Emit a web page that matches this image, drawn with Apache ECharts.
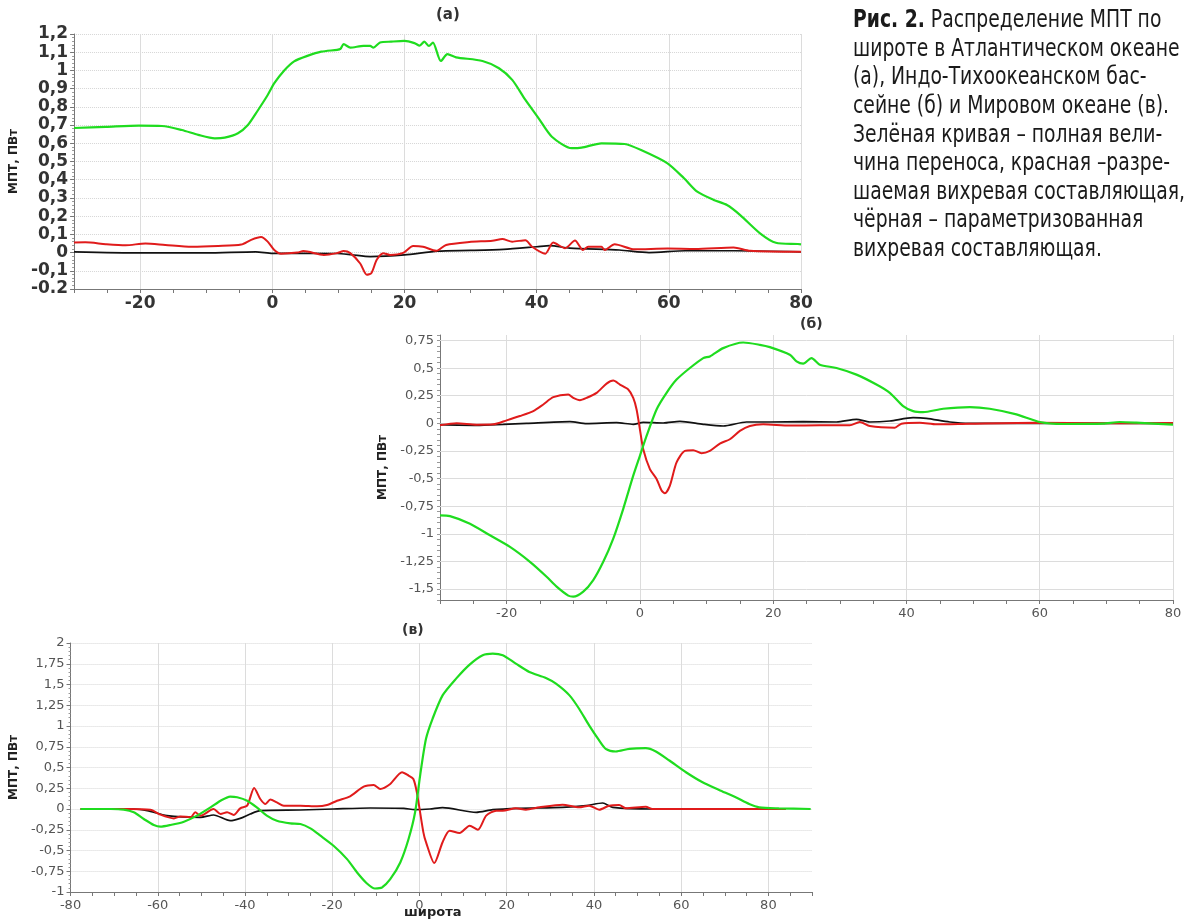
<!DOCTYPE html>
<html>
<head>
<meta charset="utf-8">
<script src="https://cdn.jsdelivr.net/npm/echarts@6/dist/echarts.min.js"></script>
<style>
html, body { margin: 0; padding: 0; background: #fff; }
#chart { width: 1191px; height: 922px; }
</style>
</head>
<body>
<div id="chart"></div>
<script>
// (а) Атлантический океан: [широта, МПТ]
const atlTotal = [[-30,0.684],[-25.2,0.69],[-20.2,0.697],[-16.7,0.695],[-13.7,0.673],[-11.2,0.646],[-8.7,0.627],[-7.2,0.631],[-5.2,0.655],[-3.7,0.70],[-2.2,0.78],[-0.7,0.865],[0.3,0.93],[1.8,1.0],[3.3,1.05],[5.3,1.08],[7.4,1.103],[9.8,1.113],[10.3,1.118],[10.8,1.144],[11.8,1.125],[13.8,1.135],[14.8,1.135],[15.3,1.125],[16.3,1.153],[18,1.158],[20,1.162],[21.5,1.15],[22.3,1.136],[23,1.158],[23.7,1.134],[24.3,1.153],[25.5,1.052],[26.5,1.089],[27.8,1.072],[31.8,1.052],[34.3,1.012],[36.3,0.948],[38.3,0.838],[40.3,0.737],[42.3,0.636],[45.3,0.573],[46.8,0.576],[49.8,0.60],[53.3,0.596],[55.8,0.563],[59.8,0.49],[62.3,0.408],[64.3,0.334],[66.8,0.289],[68.8,0.261],[70.8,0.206],[73.8,0.106],[76.2,0.054],[79.5,0.047],[80,0.045]];
const atlEddy = [[-30,0.055],[-28.3,0.056],[-25.2,0.046],[-22.2,0.04],[-19.2,0.05],[-16.2,0.042],[-12.2,0.032],[-8.2,0.036],[-4.7,0.044],[-3.2,0.07],[-1.7,0.085],[-0.7,0.06],[0.3,0.014],[1.3,-0.006],[3.8,0],[4.7,0.008],[7.8,-0.013],[9.8,-0.003],[10.8,0.008],[11.8,-0.003],[13.3,-0.06],[14.3,-0.122],[15,-0.112],[15.8,-0.04],[16.8,-0.004],[17.8,-0.013],[19.8,-0.002],[21.3,0.036],[22.8,0.032],[24.8,0.01],[26.3,0.042],[29.8,0.058],[33.3,0.065],[34.8,0.074],[36.3,0.06],[38.3,0.068],[39.3,0.032],[41.3,-0.006],[42.5,0.055],[44.3,0.024],[45.8,0.066],[47,0.014],[47.8,0.032],[49.8,0.032],[50.3,0.014],[51.8,0.046],[54.8,0.018],[59.8,0.022],[64,0.02],[69.8,0.028],[72.3,0.01],[80,0.004]];
const atlParam = [[-30,0.004],[-20,-0.002],[-10,-0.002],[-2.5,0.004],[0,-0.004],[9.8,-0.005],[12,-0.012],[14.8,-0.022],[20,-0.013],[25,0.008],[30,0.012],[35,0.018],[40,0.032],[42,0.038],[45,0.024],[52.5,0.014],[57,0],[62.5,0.01],[70,0.01],[80,0.004]];

// (б) Индо-Тихоокеанский бассейн
const indTotal = [[-30,-0.834],[-28.5,-0.84],[-25.5,-0.909],[-22.5,-1.014],[-19.5,-1.119],[-16.5,-1.254],[-14,-1.389],[-12.5,-1.479],[-10.75,-1.56],[-10,-1.569],[-8.5,-1.524],[-7,-1.419],[-5.5,-1.254],[-4,-1.044],[-2.5,-0.774],[-1,-0.474],[0,-0.294],[1,-0.114],[2.5,0.126],[4,0.276],[5.5,0.396],[7.5,0.501],[9.5,0.591],[10.5,0.606],[12.5,0.681],[15.5,0.732],[18,0.711],[19.5,0.69],[22.5,0.621],[23.5,0.561],[24.5,0.54],[25.75,0.591],[27,0.531],[29.5,0.501],[32.5,0.441],[35.5,0.351],[37.5,0.276],[39.5,0.156],[41,0.111],[42.5,0.102],[45.5,0.132],[49.5,0.147],[52.5,0.132],[56.5,0.081],[60,0.012],[63.5,-0.006],[69.5,-0.003],[72,0.012],[74.5,0.006],[80,-0.012]];
const indEddy = [[-30,-0.018],[-27.5,0],[-24.5,-0.012],[-22,-0.009],[-20,0.027],[-18,0.066],[-16,0.111],[-14.5,0.171],[-13,0.237],[-10.75,0.261],[-10,0.231],[-9,0.21],[-8,0.231],[-6.5,0.276],[-5,0.36],[-4,0.387],[-3,0.351],[-1.75,0.306],[-1,0.231],[-0.5,0.126],[0,-0.054],[0.5,-0.234],[1.5,-0.414],[2.5,-0.504],[3.25,-0.609],[3.75,-0.633],[4.5,-0.564],[5.5,-0.354],[6.75,-0.249],[8,-0.243],[9.25,-0.27],[10.5,-0.249],[12,-0.183],[13.5,-0.144],[15,-0.069],[16.5,-0.024],[18.5,-0.009],[22.5,-0.02],[27,-0.018],[31.5,-0.018],[33,0.012],[34.5,-0.024],[38.25,-0.039],[39.25,-0.003],[42,0.006],[44.5,-0.009],[49.5,-0.003],[59.5,0.006],[69.5,0],[80,0.003]];
const indParam = [[-30,-0.012],[-24.5,-0.018],[-20.5,-0.009],[-17,0],[-10.5,0.015],[-8,-0.003],[-3.5,0.006],[-1,-0.009],[0.5,0.009],[3.5,0.003],[6,0.018],[9.5,-0.009],[12.5,-0.024],[16,0.012],[19.5,0.012],[24.5,0.015],[29.5,0.012],[32.5,0.036],[34.5,0.012],[37.5,0.021],[41,0.051],[43,0.045],[46.5,0.012],[49.5,0],[60,0],[80,0]];

// (в) Мировой океан
const wldTotal = [[-77.7,0],[-70.8,0],[-67.8,-0.008],[-65.5,-0.04],[-63.2,-0.12],[-60.9,-0.193],[-59.4,-0.213],[-57.1,-0.193],[-54,-0.153],[-51,-0.08],[-47.9,0.02],[-45.6,0.1],[-43.4,0.149],[-41.8,0.141],[-39.5,0.1],[-37.3,0.02],[-35,-0.08],[-32.7,-0.141],[-29.6,-0.173],[-27.3,-0.181],[-25,-0.234],[-22.7,-0.322],[-19.7,-0.443],[-16.6,-0.604],[-14.3,-0.765],[-12.1,-0.894],[-10.2,-0.958],[-8.6,-0.946],[-6.7,-0.846],[-4.4,-0.644],[-2.5,-0.362],[-1,-0.04],[0.2,0.42],[1.5,0.846],[3,1.087],[5.3,1.369],[8.4,1.571],[11.5,1.74],[14.5,1.853],[16.8,1.873],[19.1,1.853],[22.1,1.752],[25.2,1.651],[29,1.579],[31.3,1.51],[34.4,1.369],[36.6,1.208],[38.9,1.007],[41.2,0.826],[42.7,0.725],[45,0.693],[48.1,0.725],[51.9,0.733],[54.2,0.693],[57.3,0.584],[61.1,0.443],[64.9,0.322],[68.7,0.23],[72.5,0.141],[75.6,0.06],[77.9,0.02],[82.4,0.008],[89.7,0]];
const wldEddy = [[-77.7,0],[-67,0],[-61.7,-0.008],[-59.4,-0.068],[-56.3,-0.113],[-54.8,-0.089],[-52.5,-0.1],[-51.4,-0.04],[-50.2,-0.08],[-47.2,0],[-45.6,-0.06],[-44.1,-0.04],[-42.6,-0.072],[-41.1,0.008],[-39.5,0.04],[-37.9,0.254],[-36.5,0.121],[-35.3,0.06],[-34.2,0.113],[-32.7,0.08],[-31.1,0.04],[-27.3,0.04],[-23.5,0.032],[-21.2,0.048],[-18.9,0.1],[-15.9,0.153],[-12.8,0.27],[-10.5,0.29],[-9,0.242],[-6.7,0.302],[-4,0.443],[-2.5,0.403],[-1.4,0.362],[-0.6,0.2],[0.9,-0.282],[1.5,-0.4],[3.4,-0.652],[5.3,-0.4],[6.9,-0.262],[9.2,-0.29],[11.5,-0.201],[13.4,-0.25],[15.3,-0.08],[17.6,-0.02],[19.1,-0.02],[22.1,0.008],[24.4,-0.008],[27.5,0.02],[32.8,0.052],[36.6,0.02],[38.9,0.04],[41.2,-0.008],[43.5,0.04],[45.8,0.048],[47.3,0.008],[51.9,0.028],[53.4,0],[84,0]];
const wldParam = [[-77.7,0],[-65.5,0],[-62.4,-0.02],[-57.9,-0.08],[-50.2,-0.1],[-47.2,-0.072],[-43.4,-0.141],[-41.1,-0.113],[-38.8,-0.06],[-36.5,-0.02],[-27.3,-0.012],[-19.7,0],[-11.3,0.012],[-3.6,0.008],[-1,-0.008],[2.4,0],[5.3,0.016],[13,-0.04],[16.8,-0.008],[22.9,0.008],[32.8,0.02],[38.2,0.04],[42,0.072],[44.3,0.02],[53.4,0],[84,0]];

// линии сетки (подписанные деления)
const atlXGrid = [-20, 0, 20, 40, 60, 80];
const indXGrid = [-20, 0, 20, 40, 60, 80];
const indYGrid = [-1.5, -1.25, -1, -0.75, -0.5, -0.25, 0, 0.25, 0.5, 0.75];
const wldXGrid = [-60, -40, -20, 0, 20, 40, 60, 80];

const caption = [
    '{b|Рис. 2.} Распределение МПТ по',
    'широте в Атлантическом океане',
    '(а), Индо-Тихоокеанском бас-',
    'сейне (б) и Мировом океане (в).',
    'Зелёная кривая – полная вели-',
    'чина переноса, красная –разре-',
    'шаемая вихревая составляющая,',
    'чёрная – параметризованная',
    'вихревая составляющая.'
];

const GREEN = '#1fdc1f', RED = '#e01b1b', BLACK = '#111';
const FONT = "'DejaVu Sans', Verdana, sans-serif";
const CAP_FONT = "'Liberation Sans Narrow', 'DejaVu Sans Condensed', sans-serif";

// подпись узким шрифтом: сжимаем по ширине самой длинной строки
const ctx = document.createElement('canvas').getContext('2d');
ctx.font = '24px ' + CAP_FONT;
const capScale = Math.min(1, 332 / ctx.measureText('шаемая вихревая составляющая,').width);

function comma(v) {
    return String(+v.toFixed(2)).replace('.', ',');
}
function onStep(v, step) {
    const k = v / step;
    return Math.abs(k - Math.round(k)) < 1e-6;
}

function xAxis(idx, min, max, big) {
    return {
        type: 'value', gridIndex: idx, min: min, max: max, interval: 5,
        axisLine: { onZero: false, lineStyle: { color: '#777' } },
        axisTick: { length: 4, lineStyle: { color: '#777' } },
        splitLine: { show: false },
        axisLabel: {
            color: big ? '#333' : '#555', fontSize: big ? 17 : 13, fontWeight: big ? 'bold' : 'normal',
            fontFamily: FONT, margin: big ? 6 : 7,
            formatter: v => onStep(v, 20) ? String(Math.round(v) || 0) : ''
        }
    };
}

function yName(gap, size) {
    return {
        name: 'МПТ, ПВт', nameLocation: 'middle', nameGap: gap, nameRotate: 90,
        nameTextStyle: { fontSize: size, fontWeight: 'bold', color: '#222', fontFamily: FONT }
    };
}

function line(idx, data, color, width) {
    return {
        type: 'line', xAxisIndex: idx, yAxisIndex: idx, data: data,
        showSymbol: false, smooth: 0.25, z: 3,
        lineStyle: { color: color, width: width }
    };
}

function gridLines(idx, xs, ys) {
    const d = xs.map(v => ({ xAxis: v })).concat((ys || []).map(v => ({ yAxis: v })));
    return {
        type: 'line', xAxisIndex: idx, yAxisIndex: idx, data: [], silent: true,
        markLine: {
            z: 1, silent: true, symbol: ['none', 'none'], label: { show: false },
            animation: false,
            lineStyle: { color: '#dcdcdc', type: 'solid', width: 1 },
            emphasis: { disabled: true },
            data: d
        }
    };
}

const yLine = { show: true, onZero: false, lineStyle: { color: '#777' } };

const chart = echarts.init(document.getElementById('chart'));
chart.setOption({
    animation: false,
    backgroundColor: '#fff',
    grid: [
        { left: 68, top: 34, width: 733, height: 255 },
        { left: 440, top: 335, width: 733, height: 265 },
        { left: 70, top: 643, width: 742, height: 249 }
    ],
    xAxis: [
        xAxis(0, -30, 80, true),
        xAxis(1, -30, 80, false),
        xAxis(2, -80, 90, false)
    ],
    yAxis: [
        Object.assign({
            type: 'value', gridIndex: 0, min: -0.2, max: 1.2, interval: 0.1,
            axisLine: yLine,
            axisTick: { show: true, length: 4, lineStyle: { color: '#777' } },
            minorTick: { show: true, splitNumber: 5, length: 2, lineStyle: { color: '#999' } },
            splitLine: { lineStyle: { color: '#d6d6d6', type: 'dotted' } },
            axisLabel: {
                color: '#333', fontSize: 17, fontWeight: 'bold', fontFamily: FONT, margin: 6,
                formatter: v => (+v.toFixed(2) === -0.2 ? '-0.2' : comma(v))
            }
        }, yName(45, 12)),
        Object.assign({
            type: 'value', gridIndex: 1, min: -1.6, max: 0.8, interval: 0.05,
            axisLine: yLine,
            axisTick: { show: true, length: 3, lineStyle: { color: '#999' } },
            splitLine: { show: false },
            axisLabel: {
                color: '#555', fontSize: 13, fontFamily: FONT, margin: 6,
                formatter: v => onStep(v, 0.25) ? comma(v) : ''
            }
        }, yName(51, 12)),
        Object.assign({
            type: 'value', gridIndex: 2, min: -1, max: 2, interval: 0.25,
            axisLine: yLine,
            axisTick: { show: true, length: 4, lineStyle: { color: '#777' } },
            minorTick: { show: true, splitNumber: 5, length: 2, lineStyle: { color: '#999' } },
            splitLine: { lineStyle: { color: '#d6d6d6', type: 'dotted' } },
            axisLabel: {
                color: '#555', fontSize: 13, fontFamily: FONT, margin: 6,
                formatter: v => comma(v)
            }
        }, yName(47, 12))
    ],
    series: [
        gridLines(0, atlXGrid),
        line(0, atlParam, BLACK, 1.7),
        line(0, atlEddy, RED, 2),
        line(0, atlTotal, GREEN, 2.2),
        gridLines(1, indXGrid, indYGrid),
        line(1, indParam, BLACK, 1.7),
        line(1, indEddy, RED, 2),
        line(1, indTotal, GREEN, 2.2),
        gridLines(2, wldXGrid),
        line(2, wldParam, BLACK, 1.7),
        line(2, wldEddy, RED, 2),
        line(2, wldTotal, GREEN, 2.2)
    ],
    graphic: [
        { type: 'text', left: 436, top: 8, style: { text: '(a)', fontSize: 15, fontWeight: 'bold', fill: '#333', fontFamily: FONT } },
        { type: 'text', left: 800, top: 317, style: { text: '(б)', fontSize: 14, fontWeight: 'bold', fill: '#333', fontFamily: FONT } },
        { type: 'text', left: 402, top: 623, style: { text: '(в)', fontSize: 14, fontWeight: 'bold', fill: '#333', fontFamily: FONT } },
        { type: 'text', left: 404, top: 906, style: { text: 'широта', fontSize: 13, fontWeight: 'bold', fill: '#222', fontFamily: FONT } }
    ].concat(caption.map((t, i) => ({
        type: 'text', x: 853, y: 9 + i * 28.6, scaleX: capScale,
        style: {
            text: t, x: 0, y: 0, fontSize: 24, fill: '#1a1a1a', fontFamily: CAP_FONT,
            rich: { b: { fontSize: 24, fontWeight: 'bold', fill: '#1a1a1a', fontFamily: CAP_FONT } }
        }
    })))
});
</script>
</body>
</html>
